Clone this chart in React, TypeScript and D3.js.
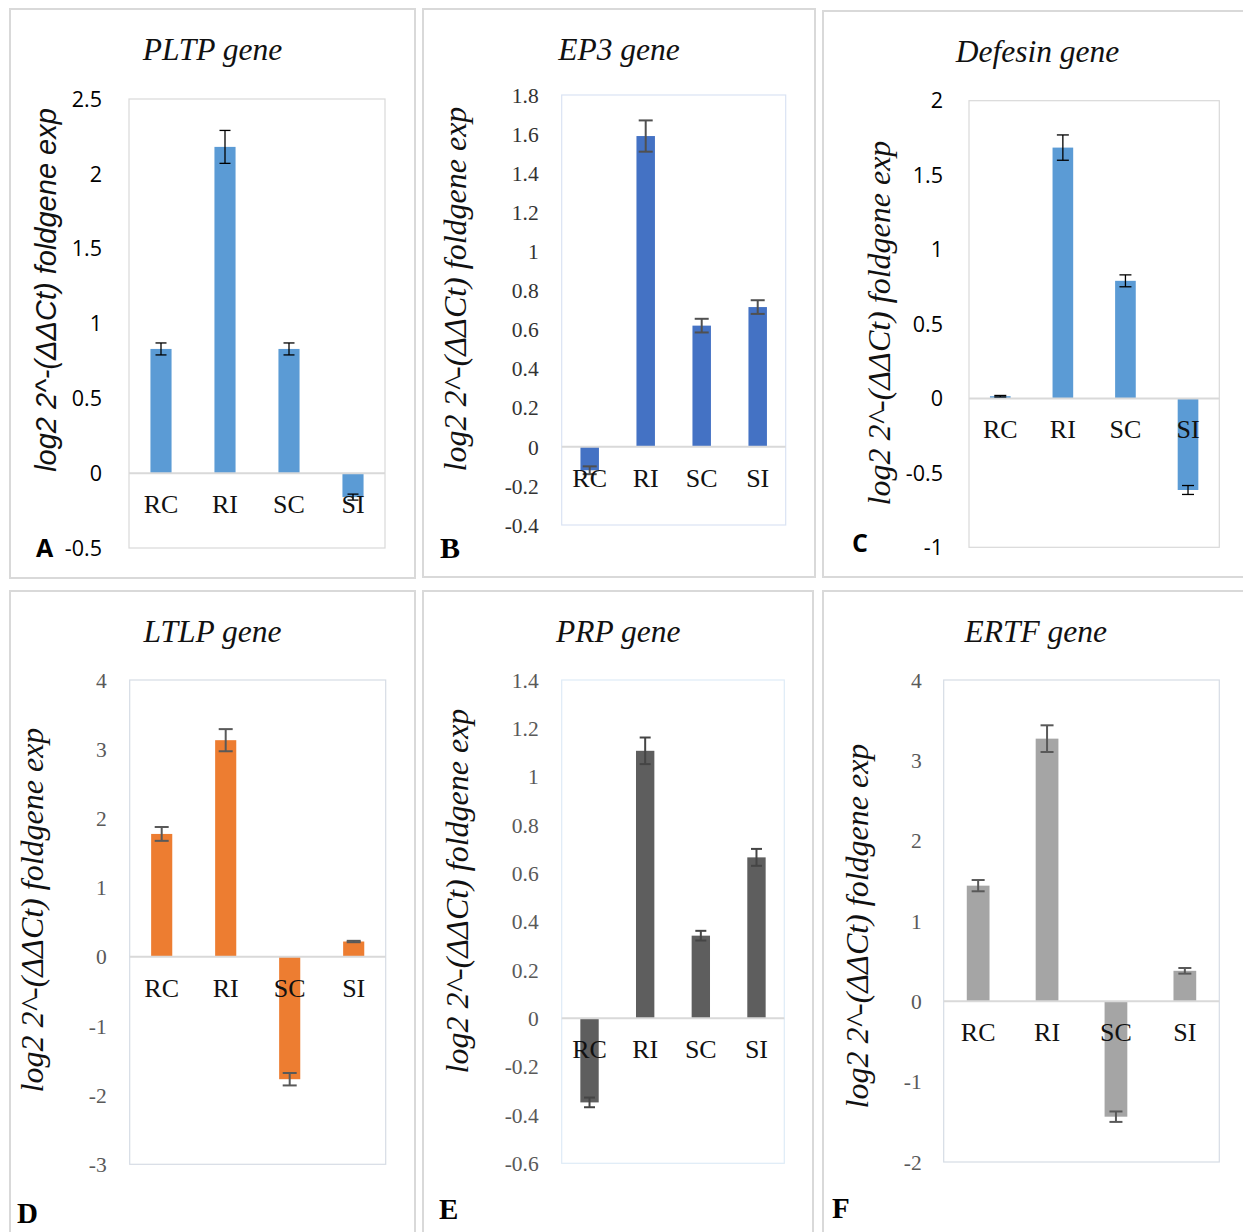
import React from 'react';
import * as d3 from 'd3';

// Relative expression data (log2 fold change) for four treatment groups
const categories = ['RC', 'RI', 'SC', 'SI'];

const pltpValues = [0.83, 2.18, 0.83, -0.16];
const pltpErrors = [0.04, 0.11, 0.04, 0.02];
const pltpTicks = [-0.5, 0, 0.5, 1, 1.5, 2, 2.5];

const ep3Values = [-0.12, 1.59, 0.62, 0.715];
const ep3Errors = [0.02, 0.08, 0.035, 0.035];
const ep3Ticks = [-0.4, -0.2, 0, 0.2, 0.4, 0.6, 0.8, 1, 1.2, 1.4, 1.6, 1.8];

const defensinValues = [0.015, 1.685, 0.79, -0.615];
const defensinErrors = [0.005, 0.085, 0.04, 0.03];
const defensinTicks = [-1, -0.5, 0, 0.5, 1, 1.5, 2];

const ltlpValues = [1.775, 3.13, -1.77, 0.22];
const ltlpErrors = [0.1, 0.16, 0.09, 0.01];
const ltlpTicks = [-3, -2, -1, 0, 1, 2, 3, 4];

const prpValues = [-0.348, 1.107, 0.342, 0.666];
const prpErrors = [0.02, 0.055, 0.02, 0.035];
const prpTicks = [-0.6, -0.4, -0.2, 0, 0.2, 0.4, 0.6, 0.8, 1, 1.2, 1.4];

const ertfValues = [1.44, 3.27, -1.436, 0.38];
const ertfErrors = [0.07, 0.166, 0.065, 0.035];
const ertfTicks = [-2, -1, 0, 1, 2, 3, 4];

const yTitle = 'log2 2^-(ΔΔCt) foldgene exp';

const SERIF = '"Liberation Serif", "Times New Roman", serif';
const SANS = '"Liberation Sans", Arial, sans-serif';
const SANS_TICK = '"Open Sans", "Liberation Sans", sans-serif';

type Panel = {
  title: string;
  letter: string;
  values: number[];
  errors: number[];
  ticks: number[];
  frame: { x: number; y: number; w: number; h: number };
  plot: { x: number; y: number; w: number; h: number };
  barColor: string;
  errColor: string;
  errWidth: number;
  capW: number;
  plotBorder: string;
  tickFont: string;
  tickColor: string;
  tickSize: number;
  tickGap: number;
  titleFont: string;
  titleSize: number;
  titleX: number;
  titleBaseline: number;
  yTitleFont: string;
  yTitleSize: number;
  yTitleX: number;
  yTitleY: number;
  letterFont: string;
  letterSize: number;
  letterX: number;
  letterY: number;
};

const panels: Panel[] = [
  {
    title: 'PLTP gene', letter: 'A', values: pltpValues, errors: pltpErrors, ticks: pltpTicks,
    frame: { x: 10, y: 9, w: 405, h: 569 }, plot: { x: 129, y: 99, w: 256, h: 449 },
    barColor: '#5b9bd5', errColor: '#000', errWidth: 1.3, capW: 11, plotBorder: '#d9d9d9',
    tickFont: SANS_TICK, tickColor: '#000', tickSize: 21.5, tickGap: 27,
    titleFont: SERIF, titleSize: 31.5, titleX: 212.5, titleBaseline: 60,
    yTitleFont: SANS, yTitleSize: 29, yTitleX: 56, yTitleY: 290,
    letterFont: SANS_TICK, letterSize: 25, letterX: 36, letterY: 557,
  },
  {
    title: 'EP3 gene', letter: 'B', values: ep3Values, errors: ep3Errors, ticks: ep3Ticks,
    frame: { x: 423, y: 9, w: 392, h: 568 }, plot: { x: 561.7, y: 95, w: 224, h: 430 },
    barColor: '#4472c4', errColor: '#505050', errWidth: 2, capW: 14, plotBorder: '#dae3f3',
    tickFont: SERIF, tickColor: '#333', tickSize: 21.5, tickGap: 23,
    titleFont: SERIF, titleSize: 31.5, titleX: 619, titleBaseline: 59.5,
    yTitleFont: SERIF, yTitleSize: 32, yTitleX: 466, yTitleY: 289,
    letterFont: SERIF, letterSize: 30, letterX: 440, letterY: 558,
  },
  {
    title: 'Defesin gene', letter: 'C', values: defensinValues, errors: defensinErrors, ticks: defensinTicks,
    frame: { x: 823, y: 11, w: 430, h: 566 }, plot: { x: 969, y: 100.7, w: 250.3, h: 446.6 },
    barColor: '#5b9bd5', errColor: '#000', errWidth: 1.3, capW: 12, plotBorder: '#d9d9d9',
    tickFont: SANS_TICK, tickColor: '#000', tickSize: 21.5, tickGap: 26,
    titleFont: SERIF, titleSize: 31.5, titleX: 1037.5, titleBaseline: 61.7,
    yTitleFont: SERIF, yTitleSize: 32, yTitleX: 890, yTitleY: 323,
    letterFont: SANS_TICK, letterSize: 25, letterX: 852, letterY: 552,
  },
  {
    title: 'LTLP gene', letter: 'D', values: ltlpValues, errors: ltlpErrors, ticks: ltlpTicks,
    frame: { x: 10, y: 591, w: 405, h: 660 }, plot: { x: 129.7, y: 680, w: 256, h: 484.3 },
    barColor: '#ed7d31', errColor: '#595959', errWidth: 2, capW: 14, plotBorder: '#d6dce5',
    tickFont: SERIF, tickColor: '#595959', tickSize: 21.5, tickGap: 23,
    titleFont: SERIF, titleSize: 31.5, titleX: 212.5, titleBaseline: 641.7,
    yTitleFont: SERIF, yTitleSize: 32, yTitleX: 43, yTitleY: 910,
    letterFont: SERIF, letterSize: 29, letterX: 17, letterY: 1223,
  },
  {
    title: 'PRP gene', letter: 'E', values: prpValues, errors: prpErrors, ticks: prpTicks,
    frame: { x: 423, y: 591, w: 390, h: 660 }, plot: { x: 561.7, y: 680, w: 222.6, h: 483.3 },
    barColor: '#5e5e5e', errColor: '#454545', errWidth: 2, capW: 11, plotBorder: '#deebf7',
    tickFont: SERIF, tickColor: '#595959', tickSize: 21.5, tickGap: 23,
    titleFont: SERIF, titleSize: 31.5, titleX: 618.3, titleBaseline: 641.7,
    yTitleFont: SERIF, yTitleSize: 32, yTitleX: 468, yTitleY: 891,
    letterFont: SERIF, letterSize: 29, letterX: 439, letterY: 1219,
  },
  {
    title: 'ERTF gene', letter: 'F', values: ertfValues, errors: ertfErrors, ticks: ertfTicks,
    frame: { x: 823, y: 591, w: 430, h: 660 }, plot: { x: 943.7, y: 680, w: 275.6, h: 482 },
    barColor: '#a5a5a5', errColor: '#595959', errWidth: 2, capW: 13, plotBorder: '#d6dce5',
    tickFont: SERIF, tickColor: '#595959', tickSize: 21.5, tickGap: 22,
    titleFont: SERIF, titleSize: 31.5, titleX: 1035.8, titleBaseline: 641.7,
    yTitleFont: SERIF, yTitleSize: 32, yTitleX: 868, yTitleY: 926,
    letterFont: SERIF, letterSize: 29, letterX: 832, letterY: 1218,
  },
];

function BarPanel({ p }: { p: Panel }) {
  const { plot } = p;
  const domain = d3.extent(p.ticks) as [number, number];
  const y = d3.scaleLinear().domain(domain).range([plot.y + plot.h, plot.y]);
  const x = d3
    .scaleBand<string>()
    .domain(categories)
    .range([plot.x, plot.x + plot.w])
    .paddingInner(0.67)
    .paddingOuter(0.335);
  const bw = x.bandwidth();
  const y0 = y(0);
  const fmt = (t: number) => String(Math.round(t * 10) / 10);

  return (
    <g>
      <rect x={p.frame.x} y={p.frame.y} width={p.frame.w} height={p.frame.h}
        fill="#fff" stroke="#d9d9d9" strokeWidth={2} />
      <text x={p.titleX} y={p.titleBaseline} textAnchor="middle" fontFamily={p.titleFont}
        fontStyle="italic" fontSize={p.titleSize} fill="#111">{p.title}</text>
      <rect x={plot.x} y={plot.y} width={plot.w} height={plot.h} fill="#fff"
        stroke={p.plotBorder} strokeWidth={1.2} />
      {p.ticks.map((t) => (
        <text key={t} x={plot.x - p.tickGap} y={y(t)} dy="0.36em" textAnchor="end"
          fontFamily={p.tickFont} fontSize={p.tickSize} fill={p.tickColor}>{fmt(t)}</text>
      ))}
      {p.values.map((v, i) => {
        const cx = (x(categories[i]) as number) + bw / 2;
        const top = Math.min(y(v), y0);
        return (
          <rect key={'b' + i} x={cx - bw / 2} y={top} width={bw}
            height={Math.max(Math.abs(y(v) - y0), 1)} fill={p.barColor} />
        );
      })}
      <line x1={plot.x} x2={plot.x + plot.w} y1={y0} y2={y0} stroke="#d9d9d9" strokeWidth={2} />
      {p.values.map((v, i) => {
        const cx = (x(categories[i]) as number) + bw / 2;
        const e = p.errors[i];
        const ya = y(v + e);
        const yb = y(v - e);
        const hc = p.capW / 2;
        return (
          <g key={'e' + i} stroke={p.errColor} strokeWidth={p.errWidth}>
            <line x1={cx} x2={cx} y1={ya} y2={yb} />
            <line x1={cx - hc} x2={cx + hc} y1={ya} y2={ya} />
            <line x1={cx - hc} x2={cx + hc} y1={yb} y2={yb} />
          </g>
        );
      })}
      {categories.map((c) => (
        <text key={c} x={(x(c) as number) + bw / 2} y={y0 + 40} textAnchor="middle"
          fontFamily={SERIF} fontSize={26} fill="#111">{c}</text>
      ))}
      <text transform={`translate(${p.yTitleX},${p.yTitleY}) rotate(-90)`} textAnchor="middle"
        fontFamily={p.yTitleFont} fontStyle="italic" fontSize={p.yTitleSize} fill="#111">{yTitle}</text>
      <text x={p.letterX} y={p.letterY} fontFamily={p.letterFont} fontWeight="bold"
        fontSize={p.letterSize} fill="#000">{p.letter}</text>
    </g>
  );
}

export default function App() {
  return (
    <svg width={1243} height={1232} viewBox="0 0 1243 1232"
      style={{ position: 'absolute', left: 0, top: 0, background: '#fff' }}>
      <rect x={0} y={0} width={1243} height={1232} fill="#fff" />
      {panels.map((p) => (
        <BarPanel key={p.letter} p={p} />
      ))}
    </svg>
  );
}
